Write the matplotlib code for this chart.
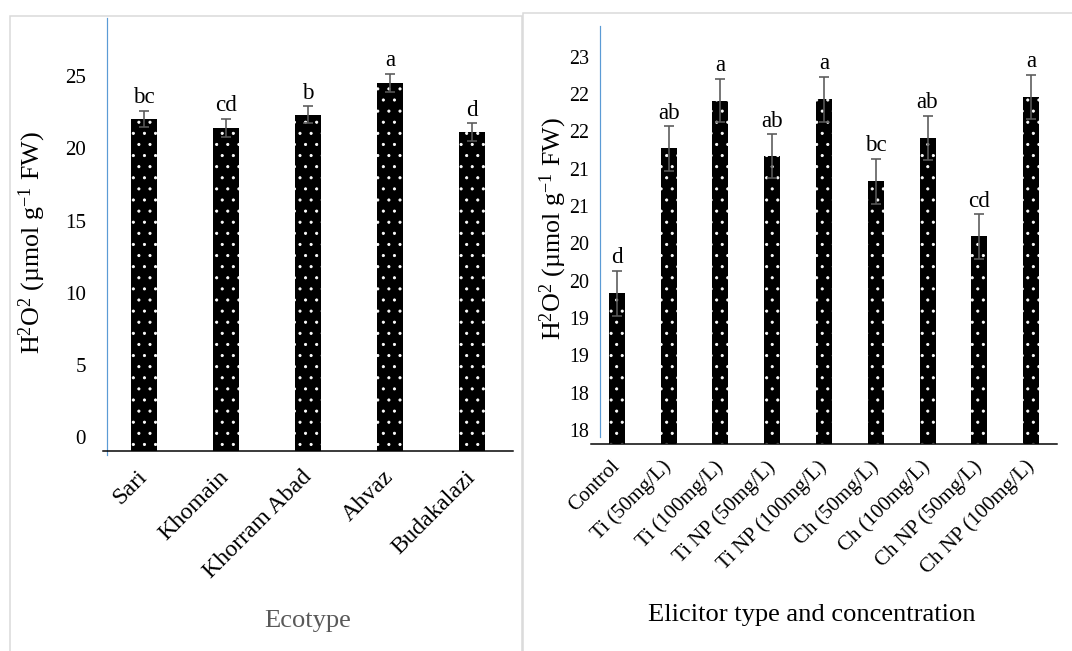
import numpy as np
import matplotlib
matplotlib.use("Agg")
import matplotlib.pyplot as plt
from matplotlib.patches import Rectangle
from matplotlib.transforms import ScaledTranslation

# high dpi so the dotted hatch comes out at roughly the right density
DPI = 200
W, H = 1072, 651
PT = 72 / DPI  # points per pixel

ecotypes = ["Sari", "Khomain", "Khorram Abad", "Ahvaz", "Budakalazi"]
eco_mean = [23.0, 22.4, 23.3, 25.5, 22.1]
eco_err = [0.58, 0.62, 0.60, 0.63, 0.60]
eco_letters = ["bc", "cd", "b", "a", "d"]
eco_ticks = [0, 5, 10, 15, 20, 25]

elicitors = ["Control", "Ti (50mg/L)", "Ti (100mg/L)", "Ti NP (50mg/L)",
             "Ti NP (100mg/L)", "Ch (50mg/L)", "Ch (100mg/L)",
             "Ch NP (50mg/L)", "Ch NP (100mg/L)"]
eli_mean = [19.52, 21.46, 22.10, 21.36, 22.12, 21.02, 21.60, 20.28, 22.15]
eli_err = [0.30, 0.30, 0.29, 0.29, 0.30, 0.30, 0.30, 0.30, 0.30]
eli_letters = ["d", "ab", "a", "ab", "a", "bc", "ab", "cd", "a"]
eli_ticks = [17.5, 18.0, 18.5, 19.0, 19.5, 20.0, 20.5, 21.0, 21.5, 22.0, 22.5]
eli_ticklabels = ["18", "18", "19", "19", "20", "20", "21", "21", "22", "22", "23"]

plt.rcParams["font.family"] = ["Liberation Serif", "DejaVu Serif"]
plt.rcParams["mathtext.fontset"] = "custom"
plt.rcParams["mathtext.rm"] = "Liberation Serif"
plt.rcParams["mathtext.it"] = "Liberation Serif:italic"
plt.rcParams["hatch.color"] = "white"
plt.rcParams["hatch.linewidth"] = 0.3

YLABEL = r"H$^{2}$O$^{2}$ (µmol g$^{-1}$ FW)"
BLUE = "#5b9bd5"
GREY = "#595959"
FRAME = "#d9d9d9"


def px_rect(left, top, right, bottom):
    return [left / W, 1 - bottom / H, (right - left) / W, (bottom - top) / H]


def draw_panel(ax, names, means, errs, letters, width, tick_px, lab_px,
               lab_pad, spine_in, tick_pad, spine_low):
    x = np.arange(len(names))
    ax.bar(x, means, width=width, color="black", hatch="...", zorder=2)
    ax.errorbar(x, means, yerr=errs, fmt="none", ecolor=GREY,
                elinewidth=1.6 * PT, capsize=5 * PT,
                capthick=1.6 * PT, zorder=3)
    for xi, m, e, lt in zip(x, means, errs, letters):
        ax.annotate(lt, (xi, m + e), xytext=(0, 7.5 * PT),
                    textcoords="offset points", ha="center", va="baseline",
                    fontsize=23 * PT)
    ax.set_xlim(-0.5, len(names) - 0.5)
    for s in ("top", "right"):
        ax.spines[s].set_visible(False)
    ax.spines["bottom"].set_linewidth(1.5 * PT)
    ax.spines["bottom"].set_color("black")
    ax.spines["left"].set_color(BLUE)
    ax.spines["left"].set_linewidth(1.2 * PT)
    ax.spines["left"].set_position(("outward", -spine_in * PT))
    ax.spines["left"].set_bounds(spine_low, ax.get_ylim()[1])
    ax.tick_params(axis="y", length=0, pad=tick_pad * PT,
                   labelsize=tick_px * PT)
    ax.tick_params(axis="x", length=0, pad=lab_pad * PT)
    ax.set_xticks(x)
    ax.set_xticklabels(names, rotation=45, ha="right", va="center",
                       rotation_mode="anchor", fontsize=lab_px * PT)
    ax.patch.set_alpha(0)


fig = plt.figure(figsize=(W / DPI, H / DPI), dpi=DPI)

# panel frames
fig.add_artist(Rectangle((10 / W, -0.1), 512 / W, 1.1 - 16 / H,
                         transform=fig.transFigure, fill=False,
                         edgecolor=FRAME, linewidth=1.5 * PT))
fig.add_artist(Rectangle((523 / W, -0.1), 0.6, 1.1 - 13 / H,
                         transform=fig.transFigure, fill=False,
                         edgecolor=FRAME, linewidth=1.5 * PT))

ax1 = fig.add_axes(px_rect(103, 18, 513, 451))
ax1.set_ylim(0, 30)
ax1.set_yticks(eco_ticks)
ax1.set_yticklabels([str(t) for t in eco_ticks])
draw_panel(ax1, ecotypes, eco_mean, eco_err, eco_letters, 0.32,
           21, 24, 23, 4, 21, -0.28)

ax2 = fig.add_axes(px_rect(591, 26, 1057, 444))
ax2.set_ylim(17.5, 23.1)
ax2.set_yticks(eli_ticks)
ax2.set_yticklabels(eli_ticklabels)
draw_panel(ax2, elicitors, eli_mean, eli_err, eli_letters, 0.31,
           20, 21, 20, 9, 11, 17.6)

# tick labels sit a little above their gridline in the original
for ax in (ax1, ax2):
    for lab in ax.get_yticklabels():
        lab.set_transform(lab.get_transform() +
                          ScaledTranslation(0, 14 / DPI, fig.dpi_scale_trans))

fig.text(32 / W, 1 - 243 / H, YLABEL, rotation=90, ha="center", va="center",
         fontsize=26 * PT)
fig.text(553 / W, 1 - 229 / H, YLABEL, rotation=90, ha="center", va="center",
         fontsize=26 * PT)
fig.text(308 / W, 1 - 621 / H, "Ecotype", ha="center", va="center",
         fontsize=26.5 * PT, color=GREY)
fig.text(812 / W, 1 - 615 / H, "Elicitor type and concentration",
         ha="center", va="center", fontsize=26.5 * PT)

fig.savefig("out.png", dpi=DPI)
